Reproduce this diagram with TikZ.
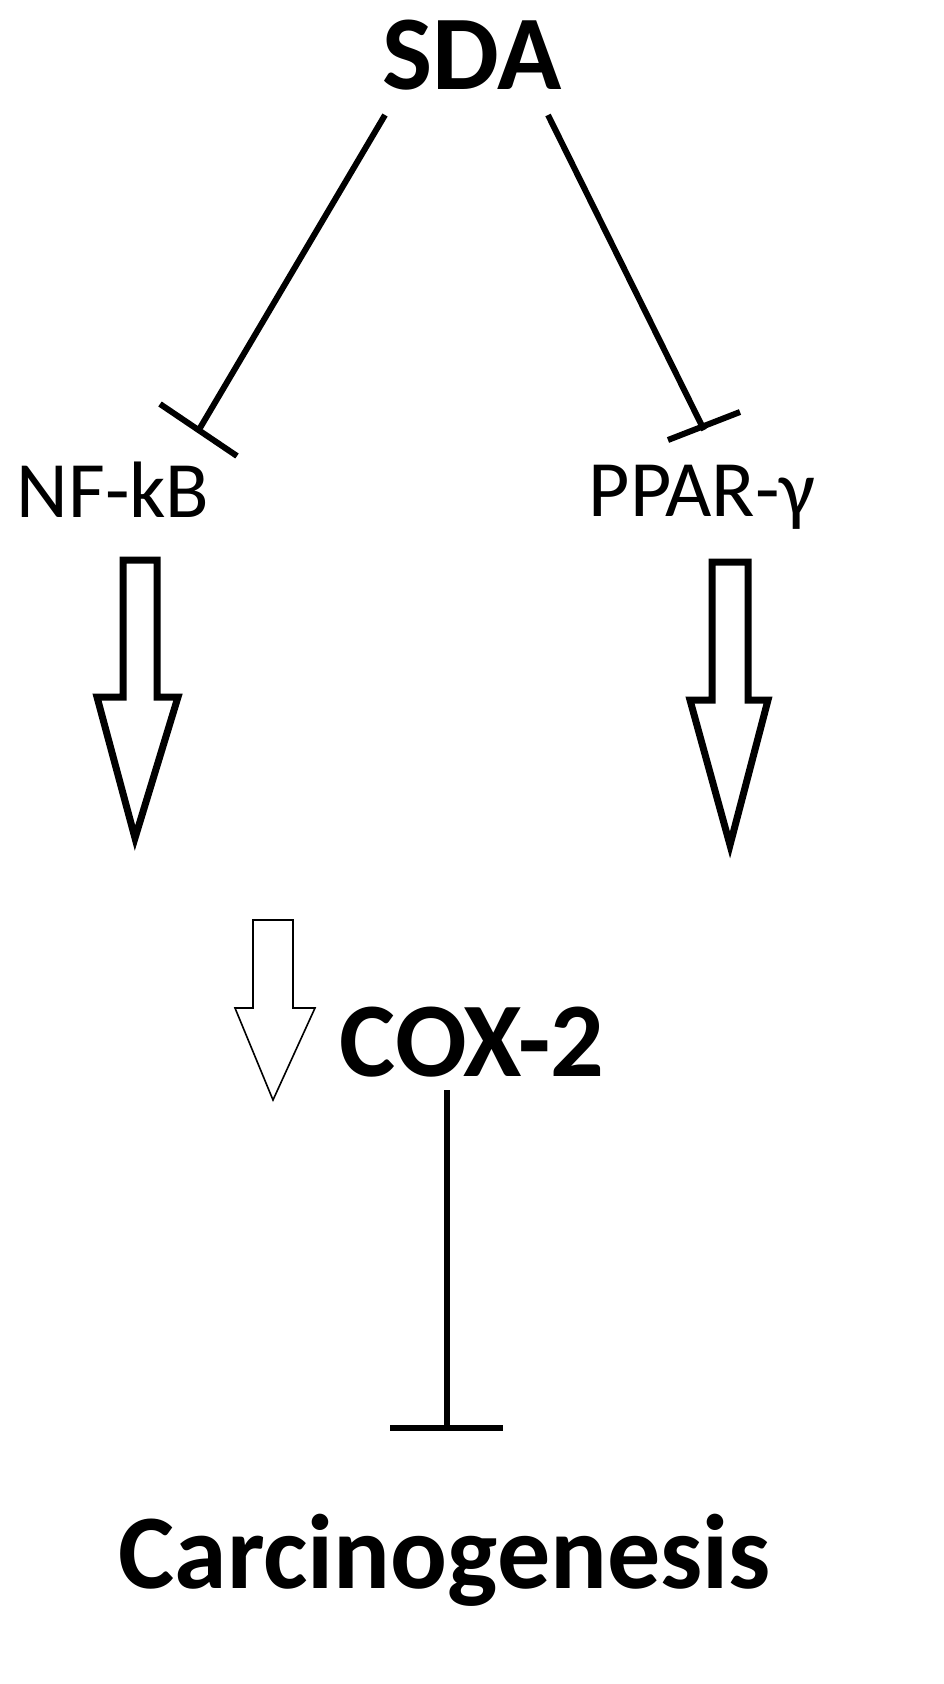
\documentclass[tikz,border=0pt]{standalone}
\usepackage{fontspec}
\setmainfont{Carlito}
\begin{document}
\begin{tikzpicture}[x=1pt,y=-1pt,
 big/.style={font=\fontsize{106}{108}\selectfont\bfseries,inner sep=0},
 mid/.style={font=\fontsize{80}{82}\selectfont,inner sep=0},
 inh/.style={line width=6pt},
 fat/.style={line width=7pt,line join=miter,fill=white},
 thin/.style={line width=1.6pt,fill=white}]
\useasboundingbox (0,0) rectangle (944,1684);
\node[big] (sda) at (472,55) {SDA};
\node[mid] (nfkb) at (113,490) {NF-kB};
\node[mid] (ppar) at (702,497) {PPAR-γ};
\node[big] (cox) at (472,1042) {COX-2};
\node[big] (carc) at (445,1560) {Carcinogenesis};
\coordinate (l1) at (385,115); \coordinate (l2) at (200,428);
\draw[inh] (l1) -- (l2); \draw[inh] (160,404) -- (237,456);
\coordinate (r1) at (548,115); \coordinate (r2) at (704,430);
\draw[inh] (r1) -- (r2); \draw[inh] (668,440) -- (740,412);
\draw[fat] (123,560) -- (157,560) -- (157,697) -- (178,697) -- (135,838) -- (97,697) -- (123,697) -- cycle;
\draw[fat] (712,562) -- (748,562) -- (748,700) -- (768,700) -- (730,845) -- (690,700) -- (712,700) -- cycle;
\draw[thin] (253,920) -- (293,920) -- (293,1008) -- (315,1008) -- (273,1100) -- (235,1008) -- (253,1008) -- cycle;
\coordinate (c1) at (447,1090); \coordinate (c2) at (447,1428);
\draw[inh] (c1) -- (c2); \draw[inh] (390,1428) -- (503,1428);
\end{tikzpicture}
\end{document}
